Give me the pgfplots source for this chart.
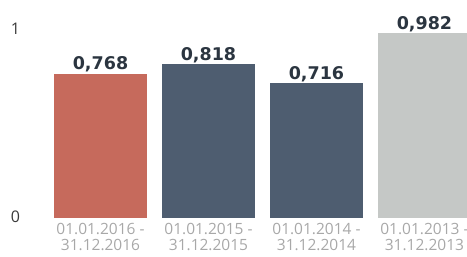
\documentclass[border=0pt]{standalone}
\usepackage{pgfplots}
\pgfplotsset{compat=1.18}
\usepackage{fontspec}
\setmainfont{Open Sans}
\newfontfamily\valfont{DejaVu Sans}
\definecolor{barred}{HTML}{C66A5C}
\definecolor{barslate}{HTML}{4E5D70}
\definecolor{bargray}{HTML}{C5C8C6}
\definecolor{valcol}{HTML}{2B3540}
\definecolor{lgray}{HTML}{A8A8A8}
\definecolor{dgray}{HTML}{3A3A3A}
\begin{document}
\begin{tikzpicture}
\useasboundingbox (0,0) rectangle (467pt,257pt);
\begin{axis}[
  at={(46.5pt,39pt)}, anchor=south west,
  scale only axis, width=420.5pt, height=218pt,
  xmin=-0.5, xmax=3.394, ymin=0, ymax=1.16,
  axis line style={draw=none},
  major tick length=0pt,
  ytick={0,1}, yticklabels={0,1},
  yticklabel style={anchor=center, xshift=-31pt, yshift=1.5pt, font=\fontsize{16}{16}\selectfont, text=dgray},
  xtick={0,1,2,3},
  xticklabels={{01.01.2016 -\\31.12.2016},{01.01.2015 -\\31.12.2015},{01.01.2014 -\\31.12.2014},{01.01.2013 -\\31.12.2013}},
  xticklabel style={align=center, font=\fontsize{15.5}{16}\selectfont, text=lgray, yshift=-1.5pt},
  ybar, bar width=93pt, bar shift=0pt,
  nodes near coords, point meta=explicit symbolic,
  every node near coord/.style={font=\valfont\bfseries\fontsize{17.5}{17.5}\selectfont, text=valcol, anchor=base, yshift=4pt},
]
\addplot[fill=barred, draw=none] coordinates {(0,0.768) [0,768]};
\addplot[fill=barslate, draw=none] coordinates {(1,0.818) [0,818]};
\addplot[fill=barslate, draw=none] coordinates {(2,0.716) [0,716]};
\addplot[fill=bargray, draw=none] coordinates {(3,0.982) [0,982]};
\end{axis}
\end{tikzpicture}
\end{document}
